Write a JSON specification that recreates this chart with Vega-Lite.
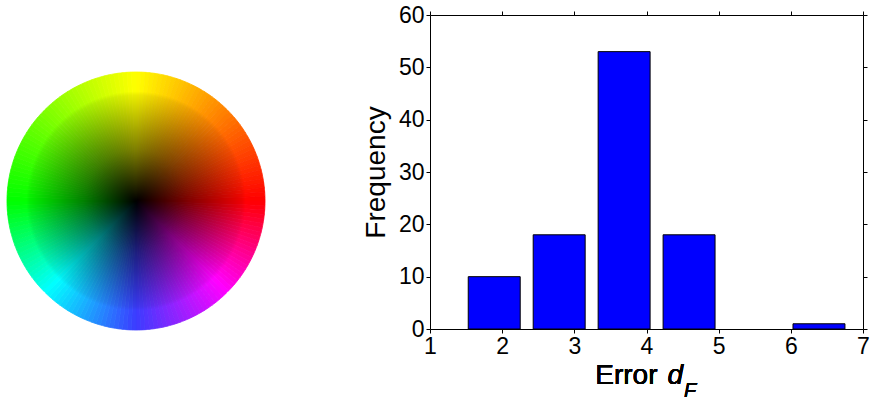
{
  "$schema": "https://vega.github.io/schema/vega-lite/v6.json",
  "padding": {"left": 0, "top": 4, "right": 0, "bottom": 0},
  "autosize": {"type": "pad"},
  "bounds": "flush",
  "spacing": 158,
  "config": {
    "view": {"stroke": null},
    "font": "Liberation Sans",
    "axis": {
      "grid": false,
      "domainColor": "#000000",
      "domainWidth": 1,
      "tickColor": "#000000",
      "tickWidth": 1,
      "tickSize": 4,
      "labelColor": "#000000",
      "labelFont": "Liberation Sans",
      "labelFontSize": 23,
      "labelFlush": false,
      "labelOverlap": false,
      "titleFont": "Liberation Sans",
      "titleColor": "#000000",
      "titleFontWeight": "normal"
    }
  },
  "hconcat": [
    {
      "width": 272,
      "height": 372,
      "layer": [
        {
          "data": {"values": [
            {"a":1},{"a":3},{"a":5},{"a":7},{"a":9},{"a":11},{"a":13},{"a":15},{"a":17},{"a":19},
            {"a":21},{"a":23},{"a":25},{"a":27},{"a":29},{"a":31},{"a":33},{"a":35},{"a":37},{"a":39},
            {"a":41},{"a":43},{"a":45},{"a":47},{"a":49},{"a":51},{"a":53},{"a":55},{"a":57},{"a":59},
            {"a":61},{"a":63},{"a":65},{"a":67},{"a":69},{"a":71},{"a":73},{"a":75},{"a":77},{"a":79},
            {"a":81},{"a":83},{"a":85},{"a":87},{"a":89},{"a":91},{"a":93},{"a":95},{"a":97},{"a":99},
            {"a":101},{"a":103},{"a":105},{"a":107},{"a":109},{"a":111},{"a":113},{"a":115},{"a":117},{"a":119},
            {"a":121},{"a":123},{"a":125},{"a":127},{"a":129},{"a":131},{"a":133},{"a":135},{"a":137},{"a":139},
            {"a":141},{"a":143},{"a":145},{"a":147},{"a":149},{"a":151},{"a":153},{"a":155},{"a":157},{"a":159},
            {"a":161},{"a":163},{"a":165},{"a":167},{"a":169},{"a":171},{"a":173},{"a":175},{"a":177},{"a":179},
            {"a":181},{"a":183},{"a":185},{"a":187},{"a":189},{"a":191},{"a":193},{"a":195},{"a":197},{"a":199},
            {"a":201},{"a":203},{"a":205},{"a":207},{"a":209},{"a":211},{"a":213},{"a":215},{"a":217},{"a":219},
            {"a":221},{"a":223},{"a":225},{"a":227},{"a":229},{"a":231},{"a":233},{"a":235},{"a":237},{"a":239},
            {"a":241},{"a":243},{"a":245},{"a":247},{"a":249},{"a":251},{"a":253},{"a":255},{"a":257},{"a":259},
            {"a":261},{"a":263},{"a":265},{"a":267},{"a":269},{"a":271},{"a":273},{"a":275},{"a":277},{"a":279},
            {"a":281},{"a":283},{"a":285},{"a":287},{"a":289},{"a":291},{"a":293},{"a":295},{"a":297},{"a":299},
            {"a":301},{"a":303},{"a":305},{"a":307},{"a":309},{"a":311},{"a":313},{"a":315},{"a":317},{"a":319},
            {"a":321},{"a":323},{"a":325},{"a":327},{"a":329},{"a":331},{"a":333},{"a":335},{"a":337},{"a":339},
            {"a":341},{"a":343},{"a":345},{"a":347},{"a":349},{"a":351},{"a":353},{"a":355},{"a":357},{"a":359}
          ]},
          "mark": {"type": "arc", "radius": 129, "strokeWidth": 0.8},
          "encoding": {
            "theta": {"aggregate": "count", "type": "quantitative", "stack": true},
            "order": {"field": "a", "type": "quantitative"},
            "color": {
              "field": "a", "type": "quantitative", "legend": null,
              "scale": {"domain": [0, 90, 135, 180, 225, 270, 360], "range": ["#ffff00", "#ff0000", "#ff00ff", "#3c3cff", "#00ffff", "#00ff00", "#ffff00"], "interpolate": "rgb"}
            },
            "stroke": {
              "field": "a", "type": "quantitative", "legend": null,
              "scale": {"domain": [0, 90, 135, 180, 225, 270, 360], "range": ["#ffff00", "#ff0000", "#ff00ff", "#3c3cff", "#00ffff", "#00ff00", "#ffff00"], "interpolate": "rgb"}
            }
          }
        },
        {
          "data": {"values": [{"shade": 1}]},
          "mark": {
            "type": "arc", "radius": 129, "theta": 0, "theta2": 6.2832,
            "fill": {
              "gradient": "radial", "x1": 0.5, "y1": 0.5, "r1": 0, "x2": 0.5, "y2": 0.5, "r2": 0.5,
              "stops": [
                {"offset": 0, "color": "rgba(0,0,0,1)"},
                {"offset": 0.4, "color": "rgba(0,0,0,0.5)"},
                {"offset": 0.82, "color": "rgba(0,0,0,0.07)"},
                {"offset": 0.85, "color": "rgba(0,0,0,0)"},
                {"offset": 1, "color": "rgba(0,0,0,0)"}
              ]
            }
          },
          "encoding": {}
        }
      ]
    },
    {
      "width": 433,
      "height": 314,
      "data": {"values": [
        {"x0": 1.53, "x1": 2.25, "count": 10},
        {"x0": 2.43, "x1": 3.15, "count": 18},
        {"x0": 3.33, "x1": 4.05, "count": 53},
        {"x0": 4.23, "x1": 4.95, "count": 18},
        {"x0": 6.03, "x1": 6.75, "count": 1}
      ]},
      "layer": [
        {
          "mark": {"type": "bar", "fill": "#0000ff", "stroke": "#000000", "strokeWidth": 1},
          "encoding": {
            "x": {
              "field": "x0", "type": "quantitative",
              "scale": {"domain": [1, 7], "nice": false, "zero": false},
              "axis": {"orient": "bottom", "values": [1, 2, 3, 4, 5, 6, 7], "format": "d", "title": null, "labelPadding": 2}
            },
            "x2": {"field": "x1"},
            "y": {
              "field": "count", "type": "quantitative",
              "scale": {"domain": [0, 60], "nice": false},
              "axis": {"orient": "left", "values": [0, 10, 20, 30, 40, 50, 60], "title": "Frequency", "titleFontSize": 28, "titlePadding": 8, "labelPadding": 2}
            },
            "y2": {"datum": 0}
          }
        },
        {
          "mark": {"type": "bar", "opacity": 0},
          "encoding": {
            "x": {
              "field": "x0", "type": "quantitative",
              "axis": {"orient": "top", "values": [1, 2, 3, 4, 5, 6, 7], "labels": false, "title": null}
            },
            "x2": {"field": "x1"},
            "y": {
              "field": "count", "type": "quantitative",
              "axis": {"orient": "right", "values": [0, 10, 20, 30, 40, 50, 60], "labels": false, "title": null}
            },
            "y2": {"datum": 0}
          }
        },
        {
          "mark": {"type": "text", "text": "Error", "fontSize": 28, "align": "left", "baseline": "alphabetic", "color": "#000000"},
          "encoding": {
            "x": {"datum": 3.29, "type": "quantitative", "axis": null},
            "y": {"datum": -10.6, "type": "quantitative", "axis": null}
          }
        },
        {
          "mark": {"type": "text", "text": "d", "fontSize": 28, "fontStyle": "italic", "align": "left", "baseline": "alphabetic", "color": "#000000"},
          "encoding": {
            "x": {"datum": 4.29, "type": "quantitative", "axis": null},
            "y": {"datum": -10.6, "type": "quantitative", "axis": null}
          }
        },
        {
          "mark": {"type": "text", "text": "F", "fontSize": 20, "fontStyle": "italic", "align": "left", "baseline": "alphabetic", "color": "#000000"},
          "encoding": {
            "x": {"datum": 4.52, "type": "quantitative", "axis": null},
            "y": {"datum": -12.9, "type": "quantitative", "axis": null}
          }
        }
      ],
      "resolve": {"axis": {"x": "independent", "y": "independent"}}
    }
  ]
}
